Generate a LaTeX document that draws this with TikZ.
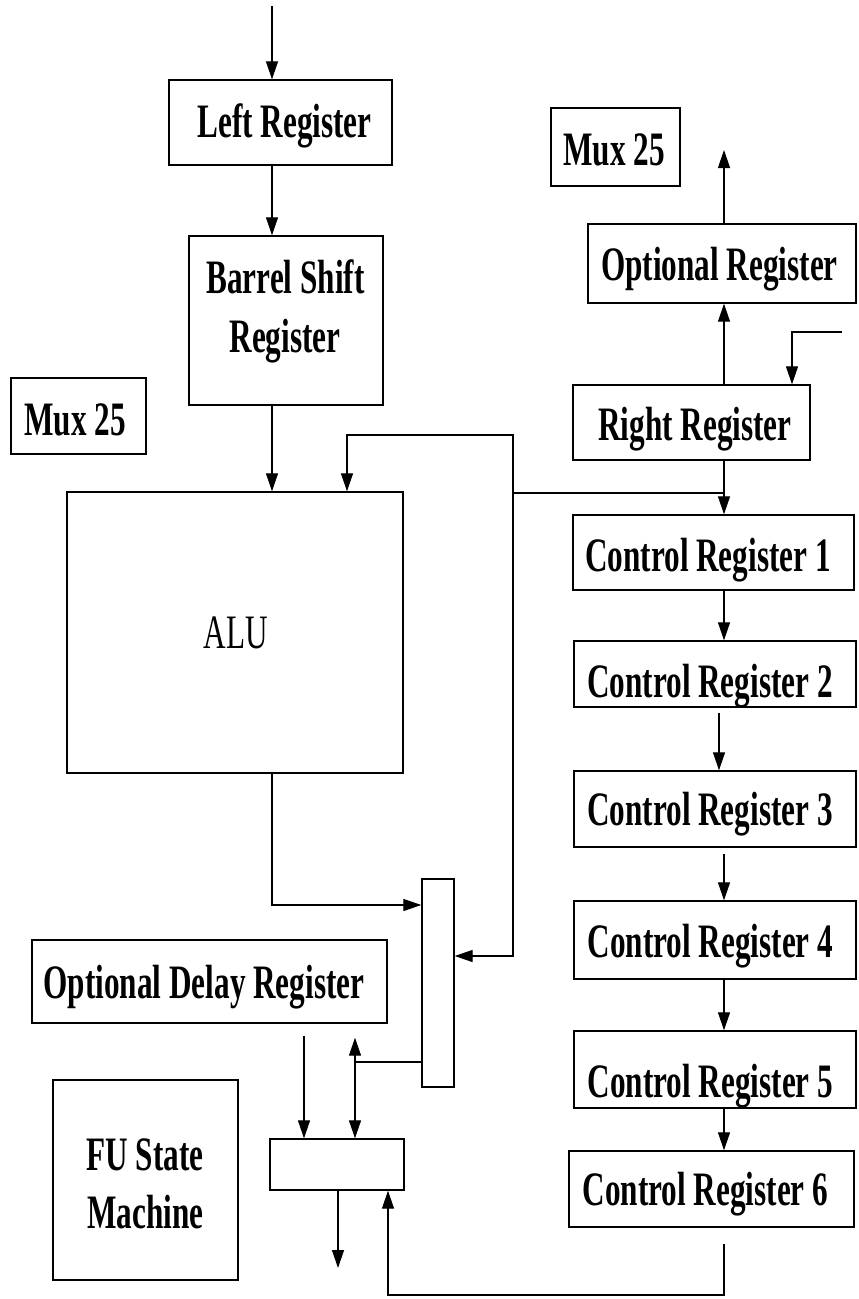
\documentclass[tikz,border=0pt]{standalone}
\usepackage{fontspec}
\setmainfont{Liberation Serif}[FakeStretch=0.65]
\usetikzlibrary{arrows.meta}
\begin{document}
\begin{tikzpicture}[x=1pt,y=-1pt,
  box/.style={draw, line width=1.4pt, inner sep=0pt},
  lbl/.style={anchor=base, inner sep=0pt, font=\fontsize{48}{58}\selectfont\bfseries},
  lblr/.style={anchor=base, inner sep=0pt, font=\fontsize{48}{58}\selectfont},
  wire/.style={line width=1.3pt},
  conn/.style={line width=1.3pt, -{Triangle[length=18pt,width=12pt]}},
  both/.style={line width=1.3pt, {Triangle[length=18pt,width=12pt]}-{Triangle[length=18pt,width=12pt]}}
]
\useasboundingbox (0,0) rectangle (859,1299);
\fill[white] (0,0) rectangle (859,1299);

% boxes
\node[box, minimum width=223pt, minimum height=85pt] (left) at (280.5,122.5) {};
\node[box, minimum width=194pt, minimum height=169pt] (barrel) at (286,320.5) {};
\node[box, minimum width=135pt, minimum height=76pt] (muxL) at (78.5,416) {};
\node[box, minimum width=129pt, minimum height=78pt] (muxR) at (615.5,147) {};
\node[box, minimum width=268pt, minimum height=79pt] (optreg) at (722,263.5) {};
\node[box, minimum width=237pt, minimum height=75pt] (rightreg) at (691.5,422.5) {};
\node[box, minimum width=336pt, minimum height=281pt] (alu) at (235,632.5) {};
\node[box, minimum width=281pt, minimum height=75pt] (cr1) at (713.5,552.5) {};
\node[box, minimum width=282pt, minimum height=66pt] (cr2) at (715,674) {};
\node[box, minimum width=282pt, minimum height=76pt] (cr3) at (715,809) {};
\node[box, minimum width=282pt, minimum height=78pt] (cr4) at (715,940) {};
\node[box, minimum width=282pt, minimum height=77pt] (cr5) at (715,1069.5) {};
\node[box, minimum width=285pt, minimum height=76pt] (cr6) at (711.5,1189) {};
\node[box, minimum width=32pt, minimum height=208pt] (mux) at (438,983) {};
\node[box, minimum width=355pt, minimum height=83pt] (odr) at (209.5,981.5) {};
\node[box, minimum width=185pt, minimum height=200pt] (fsm) at (145.5,1180) {};
\node[box, minimum width=134pt, minimum height=51pt] (small) at (337,1164.5) {};

% labels
\node[lbl] (tleft) at (284.5,137) {Left Register};
\node[lbl] (tbarrel1) at (285.5,293) {Barrel Shift};
\node[lbl] (tbarrel2) at (285,352) {Register};
\node[lbl] (tmuxL) at (75,435) {Mux 25};
\node[lbl] (tmuxR) at (614,165) {Mux 25};
\node[lbl] (topt) at (719.5,280) {Optional Register};
\node[lbl] (tright) at (695,440) {Right Register};
\node[lblr] (talu) at (236,648) {ALU};
\node[lbl] (tcr1) at (708,571) {Control Register 1};
\node[lbl] (tcr2) at (710,697) {Control Register 2};
\node[lbl] (tcr3) at (710,825) {Control Register 3};
\node[lbl] (tcr4) at (710.5,957) {Control Register 4};
\node[lbl] (tcr5) at (710.5,1097) {Control Register 5};
\node[lbl] (tcr6) at (705.5,1205) {Control Register 6};
\node[lbl] (todr) at (204,998) {Optional Delay Register};
\node[lbl] (tfsm1) at (145,1170) {FU State};
\node[lbl] (tfsm2) at (145.5,1228) {Machine};

% helper coordinates
\coordinate (in0) at (272,6);
\coordinate (rc) at (724,0);
\coordinate (out1) at (724,150);
\coordinate (rin) at (842,332);
\coordinate (rinx) at (792,0);
\coordinate (tap) at (724,493);
\coordinate (bus) at (513,493);
\coordinate (bt) at (513,435);
\coordinate (ain) at (347,0);
\coordinate (mr) at (0,956);
\coordinate (ml1) at (0,905);
\coordinate (ml2) at (0,1062);
\coordinate (dv) at (355,0);
\coordinate (ox) at (304,0);
\coordinate (fout) at (338,1268);
\coordinate (fb) at (388,1295);
\coordinate (c2x) at (719,0);

% left column
\draw[conn] (in0) -- (in0 |- left.north);
\draw[conn] (in0 |- left.south) -- (in0 |- barrel.north);
\draw[conn] (in0 |- barrel.south) -- (in0 |- alu.north);

% right column top
\draw[conn] (rc |- optreg.north) -- (out1);
\draw[conn] (rc |- rightreg.north) -- (rc |- optreg.south);
\draw[conn] (rin) -| (rinx |- rightreg.north);
\draw[conn] (rc |- rightreg.south) -- (rc |- cr1.north);

% bus from right register
\draw[conn] (tap) -- (bus) -- (bt) -| (ain |- alu.north);
\draw[conn] (bus) |- (mux.east |- mr);

% control chain
\draw[conn] (rc |- cr1.south) -- (rc |- cr2.north);
\draw[conn, shorten <=5pt] (c2x |- cr2.south) -- (c2x |- cr3.north);
\draw[conn, shorten <=6pt] (rc |- cr3.south) -- (rc |- cr4.north);
\draw[conn] (rc |- cr4.south) -- (rc |- cr5.north);
\draw[conn] (rc |- cr5.south) -- (rc |- cr6.north);
\draw[conn, shorten <=16pt] (rc |- cr6.south) -- (rc |- fb) -- (fb) -- (fb |- small.south);

% ALU to mux
\draw[conn] (in0 |- alu.south) |- (mux.west |- ml1);

% mux output
\draw[wire] (mux.west |- ml2) -- (dv |- ml2);
\draw[both, shorten <=14pt] (dv |- odr.south) -- (dv |- small.north);
\draw[conn, shorten <=12pt] (ox |- odr.south) -- (ox |- small.north);
\draw[conn] (fout |- small.south) -- (fout);
\end{tikzpicture}
\end{document}
